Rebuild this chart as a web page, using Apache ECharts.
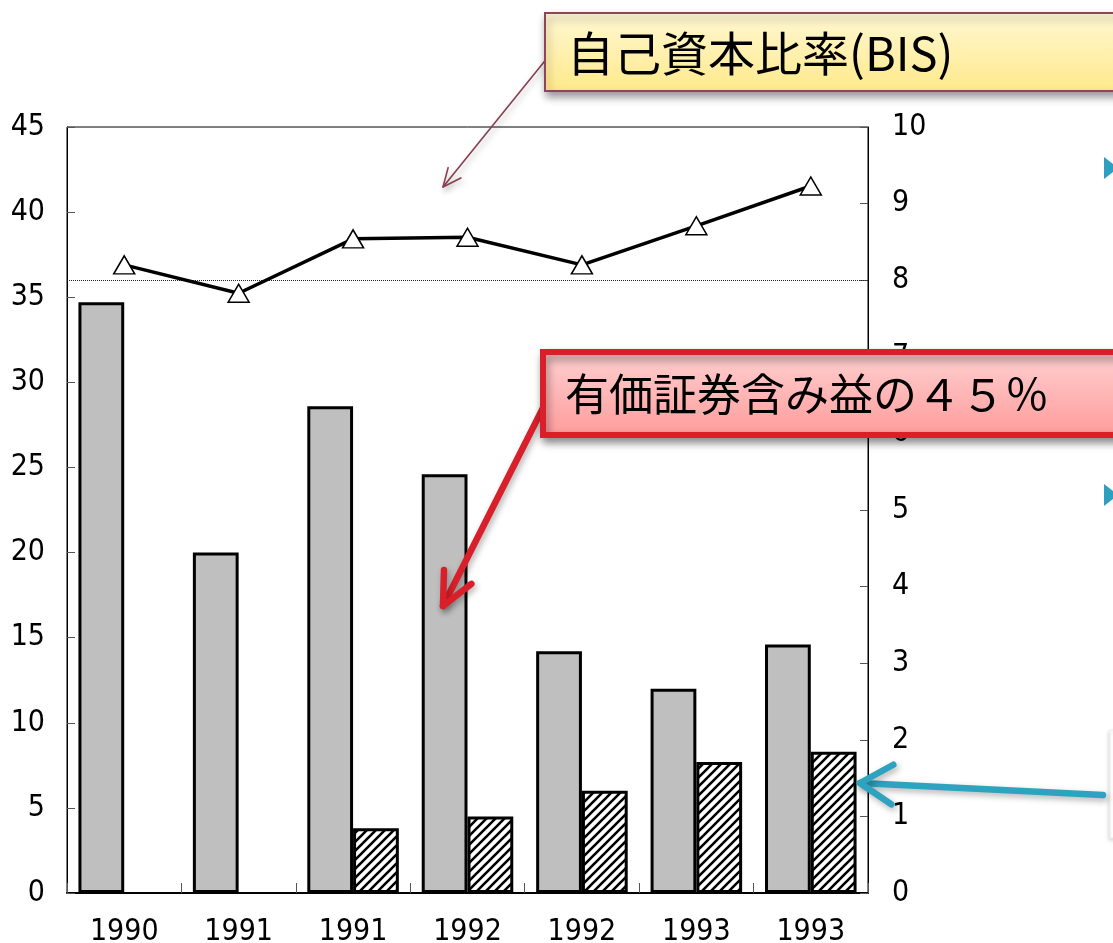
<!DOCTYPE html>
<html>
<head>
<meta charset="utf-8">
<script src="https://cdn.jsdelivr.net/npm/echarts@6/dist/echarts.min.js"></script>
<style>
  html, body { margin: 0; padding: 0; background: #fff; }
  #chart { width: 1113px; height: 943px; }
</style>
</head>
<body>
<div id="chart"></div>
<script>
// Period labels along the category axis
const categories = ['1990', '1991', '1991', '1992', '1992', '1993', '1993'];
// Unrealized gains on securities (left axis)
const unrealizedGains = [34.7, 20.0, 28.6, 24.6, 14.2, 12.0, 14.6];
// 45% of unrealized gains counted as capital (left axis)
const gainsCounted = [null, null, 3.8, 4.5, 6.0, 7.7, 8.3];
// BIS capital adequacy ratio, % (right axis)
const bisRatio = [8.2, 7.83, 8.54, 8.56, 8.2, 8.71, 9.23];
// Regulatory minimum, % (right axis)
const bisMinimum = 8;
// Axis ranges
const leftAxis = { min: 0, max: 45, interval: 5 };
const rightAxis = { min: 0, max: 10, interval: 1 };

const numFont = '"Liberation Sans Narrow", "DejaVu Sans Condensed", "Liberation Sans", sans-serif';
const jpFont = '"Noto Sans CJK JP", "Noto Sans", sans-serif';

// Diagonal hatch tile for the second bar series
function hatchPattern() {
  const s = 9;
  const c = document.createElement('canvas');
  c.width = s; c.height = s;
  const g = c.getContext('2d');
  g.fillStyle = '#fff';
  g.fillRect(0, 0, s, s);
  g.strokeStyle = '#000';
  g.lineWidth = 2.6;
  g.beginPath();
  g.moveTo(-1, s + 1); g.lineTo(s + 1, -1);
  g.moveTo(-2, 2); g.lineTo(2, -2);
  g.moveTo(s - 2, s + 2); g.lineTo(s + 2, s - 2);
  g.stroke();
  return c;
}

const Z = 200;

// Arrow made of a shaft and an open head
function arrow(x1, y1, x2, y2, color, width, head, spread) {
  const ang = Math.atan2(y2 - y1, x2 - x1);
  const a1 = ang + Math.PI - spread, a2 = ang + Math.PI + spread;
  const style = () => ({
    stroke: color, lineWidth: width, fill: null, lineCap: 'round', lineJoin: 'round',
    shadowBlur: 6, shadowOffsetX: 2, shadowOffsetY: 3, shadowColor: 'rgba(0,0,0,0.3)'
  });
  return [
    { type: 'line', z: Z, shape: { x1, y1, x2, y2 }, style: style() },
    { type: 'polyline', z: Z, shape: { points: [
        [x2 + head * Math.cos(a1), y2 + head * Math.sin(a1)],
        [x2, y2],
        [x2 + head * Math.cos(a2), y2 + head * Math.sin(a2)]
      ] }, style: style() }
  ];
}

function callout(x, y, w, h, text, size, stroke, strokeW, top, bottom) {
  return [
    {
      type: 'rect', z: Z + 1, shape: { x, y, width: w, height: h },
      style: {
        fill: new echarts.graphic.LinearGradient(0, 0, 0, 1, [
          { offset: 0, color: top }, { offset: 1, color: bottom }
        ]),
        stroke, lineWidth: strokeW,
        shadowBlur: 8, shadowOffsetX: 2, shadowOffsetY: 5, shadowColor: 'rgba(0,0,0,0.4)'
      }
    },
    {
      type: 'text', z: Z + 2, x: x + 22, y: y + h / 2 + 1,
      style: { text, font: size + 'px ' + jpFont, fill: '#000', verticalAlign: 'middle', textAlign: 'left' }
    }
  ];
}

const chart = echarts.init(document.getElementById('chart'), null, { renderer: 'canvas' });

chart.setOption({
  animation: false,
  backgroundColor: '#fff',
  grid: {
    left: 67, right: 245, top: 127, bottom: 50,
    outerBoundsMode: 'none', containLabel: false,
    show: true, borderColor: '#000', borderWidth: 1, backgroundColor: 'transparent'
  },
  xAxis: {
    type: 'category',
    data: categories,
    boundaryGap: true,
    axisLine: { show: true, lineStyle: { color: '#000', width: 2 } },
    axisTick: { show: true, inside: true, length: 10, lineStyle: { color: '#555', width: 1 } },
    axisLabel: { color: '#000', fontSize: 30, fontFamily: numFont, margin: 24 },
    splitLine: { show: false }
  },
  yAxis: [
    {
      type: 'value', min: leftAxis.min, max: leftAxis.max, interval: leftAxis.interval,
      position: 'left',
      axisLine: { show: true, lineStyle: { color: '#000', width: 1 } },
      axisTick: { show: true, inside: true, length: 8, lineStyle: { color: '#555' } },
      axisLabel: { color: '#000', fontSize: 30, fontFamily: numFont, margin: 22 },
      splitLine: { show: false }
    },
    {
      type: 'value', min: rightAxis.min, max: rightAxis.max, interval: rightAxis.interval,
      position: 'right',
      axisLine: { show: true, lineStyle: { color: '#000', width: 1 } },
      axisTick: { show: true, inside: true, length: 8, lineStyle: { color: '#555' } },
      axisLabel: { color: '#000', fontSize: 30, fontFamily: numFont, margin: 24 },
      splitLine: { show: false }
    }
  ],
  series: [
    {
      name: '含み益', type: 'bar', yAxisIndex: 0, data: unrealizedGains,
      barGap: '0%', barCategoryGap: '20%',
      itemStyle: { color: '#BFBFBF', borderColor: '#000', borderWidth: 3 },
      emphasis: { disabled: true }, z: 2
    },
    {
      name: '含み益の45%', type: 'bar', yAxisIndex: 0, data: gainsCounted,
      itemStyle: { color: { image: hatchPattern(), repeat: 'repeat' }, borderColor: '#000', borderWidth: 3 },
      emphasis: { disabled: true }, z: 2
    },
    {
      name: '自己資本比率', type: 'line', yAxisIndex: 1, data: bisRatio,
      symbol: 'triangle', symbolSize: [21, 18],
      lineStyle: { color: '#000', width: 3.5 },
      itemStyle: { color: '#fff', borderColor: '#000', borderWidth: 1.5 },
      emphasis: { disabled: true }, z: 5,
      markLine: {
        silent: true, symbol: 'none', label: { show: false },
        lineStyle: { color: '#222', width: 1, type: 'dotted' },
        data: [{ yAxis: bisMinimum }]
      }
    }
  ],
  graphic: [
    // side bullets
    { type: 'polygon', z: Z, shape: { points: [[1104, 157], [1104, 179], [1118, 168]] }, style: { fill: '#2E9FBE' } },
    { type: 'polygon', z: Z, shape: { points: [[1104, 484], [1104, 506], [1118, 495]] }, style: { fill: '#2E9FBE' } },
    // edge of a note box
    { type: 'rect', z: Z, shape: { x: 1110, y: 730, width: 40, height: 108 },
      style: { fill: '#fff', stroke: '#eeeeee', lineWidth: 1, shadowBlur: 4, shadowOffsetX: -1, shadowOffsetY: 2, shadowColor: 'rgba(0,0,0,0.15)' } },
    ...arrow(548, 57, 443, 187, '#8A3F52', 1.6, 20, 0.42),
    ...arrow(548, 398, 443, 606, '#D9202A', 6.5, 36, 0.44),
    ...arrow(1103, 795, 860, 783, '#2EA3C0', 6.5, 38, 0.55),
    ...callout(545, 13, 600, 78, '自己資本比率(BIS)', 47, '#8E4656', 2, '#FFF8D4', '#FFE98A'),
    ...callout(543, 352, 600, 83, '有価証券含み益の４５％', 44, '#D9202A', 6, '#FFD2D2', '#FF9A9A')
  ]
});
</script>
</body>
</html>
